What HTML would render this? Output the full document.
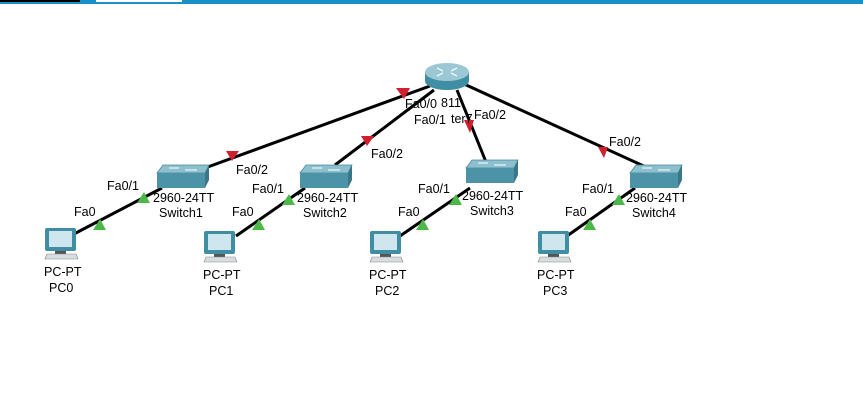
<!DOCTYPE html>
<html><head><style>
body{margin:0;width:863px;height:403px;background:#fff;overflow:hidden;font-family:"Liberation Sans",sans-serif}
text{font-family:"Liberation Sans",sans-serif;font-size:12.5px;fill:#000}
</style></head><body>
<svg width="863" height="403" viewBox="0 0 863 403">
<defs>
<g id="sw">
<polygon points="6,0 52,0 48,8 0,8" fill="#8cc0cf" stroke="#4e8799" stroke-width="0.8"/>
<rect x="0" y="8" width="48" height="15" fill="#4c93a8"/>
<polygon points="48,8 52,0 52,15 48,23" fill="#3a7688"/>
<line x1="12" y1="3" x2="22" y2="3" stroke="#fff" stroke-width="1"/>
<line x1="28" y1="5" x2="40" y2="5" stroke="#fff" stroke-width="1"/>
</g>
<g id="pc">
<rect x="0" y="0" width="31" height="23" rx="2" fill="#3f8ea3"/>
<rect x="4" y="3" width="23" height="16" fill="#cfe6ee"/>
<rect x="10" y="23" width="11" height="3" fill="#555"/>
<polygon points="2,26 31,26 33,31 0,31" fill="#d8dde0" stroke="#888" stroke-width="0.6"/>
</g>
</defs>
<rect x="0" y="0" width="863" height="4" fill="#1a8fc8"/>
<rect x="0" y="0" width="80" height="2" fill="#000"/>
<rect x="96" y="0" width="86" height="2" fill="#fff"/>
<g stroke="#000" stroke-width="3" fill="none">
<line x1="430" y1="86" x2="205" y2="168"/>
<line x1="434" y1="90" x2="335" y2="165"/>
<line x1="457" y1="90" x2="486" y2="162"/>
<line x1="464" y1="84" x2="648" y2="168"/>
<line x1="72" y1="235" x2="162" y2="188"/>
<line x1="236" y1="236" x2="305" y2="188"/>
<line x1="400" y1="236" x2="470" y2="188"/>
<line x1="567" y1="236" x2="635" y2="188"/>
</g>
<g fill="#d0202e">
<polygon points="396,88 410,88 404,99"/>
<polygon points="226,151 239,151 232,161"/>
<polygon points="361,136 374,136 367,146"/>
<polygon points="464,120 474,120 470,133"/>
<polygon points="598,147 608,147 604,158"/>
</g>
<g fill="#4cb848">
<polygon points="93,230 106,230 100,219"/>
<polygon points="137,203 150,203 144,192"/>
<polygon points="252,230 265,230 259,219"/>
<polygon points="282,205 295,205 289,194"/>
<polygon points="416,230 429,230 423,219"/>
<polygon points="449,205 462,205 456,194"/>
<polygon points="583,230 596,230 590,219"/>
<polygon points="612,205 625,205 619,194"/>
</g>
<ellipse cx="447" cy="81" rx="22" ry="9" fill="#3f8ea3"/>
<rect x="425" y="72" width="44" height="9" fill="#3f8ea3"/>
<ellipse cx="447" cy="72" rx="22" ry="9" fill="#9cc8d6"/>
<path d="M437 68 l6 3 M457 68 l-6 3 M437 76 l6 -3 M457 76 l-6 -3" stroke="#fff" stroke-width="1.2"/>
<use href="#sw" x="157" y="165"/>
<use href="#sw" x="300" y="165"/>
<use href="#sw" x="466" y="160"/>
<use href="#sw" x="630" y="165"/>
<use href="#pc" x="45" y="228"/>
<use href="#pc" x="204" y="231"/>
<use href="#pc" x="370" y="231"/>
<use href="#pc" x="538" y="231"/>
<text x="405" y="108">Fa0/0</text><text x="441" y="107">811</text>
<text x="414" y="124">Fa0/1</text><text x="451" y="123">ter7</text>
<text x="474" y="119">Fa0/2</text>
<text x="236" y="174">Fa0/2</text>
<text x="371" y="158">Fa0/2</text>
<text x="609" y="146">Fa0/2</text>
<text x="107" y="190">Fa0/1</text><text x="74" y="216">Fa0</text>
<text x="252" y="193">Fa0/1</text><text x="232" y="216">Fa0</text>
<text x="418" y="193">Fa0/1</text><text x="398" y="216">Fa0</text>
<text x="582" y="193">Fa0/1</text><text x="565" y="216">Fa0</text>
<text x="153" y="202">2960-24TT</text><text x="159" y="217">Switch1</text>
<text x="297" y="202">2960-24TT</text><text x="303" y="217">Switch2</text>
<text x="462" y="200">2960-24TT</text><text x="470" y="215">Switch3</text>
<text x="626" y="202">2960-24TT</text><text x="632" y="217">Switch4</text>
<text x="44" y="276">PC-PT</text><text x="49" y="292">PC0</text>
<text x="203" y="279">PC-PT</text><text x="209" y="295">PC1</text>
<text x="369" y="279">PC-PT</text><text x="375" y="295">PC2</text>
<text x="537" y="279">PC-PT</text><text x="543" y="295">PC3</text>
</svg>
</body></html>
